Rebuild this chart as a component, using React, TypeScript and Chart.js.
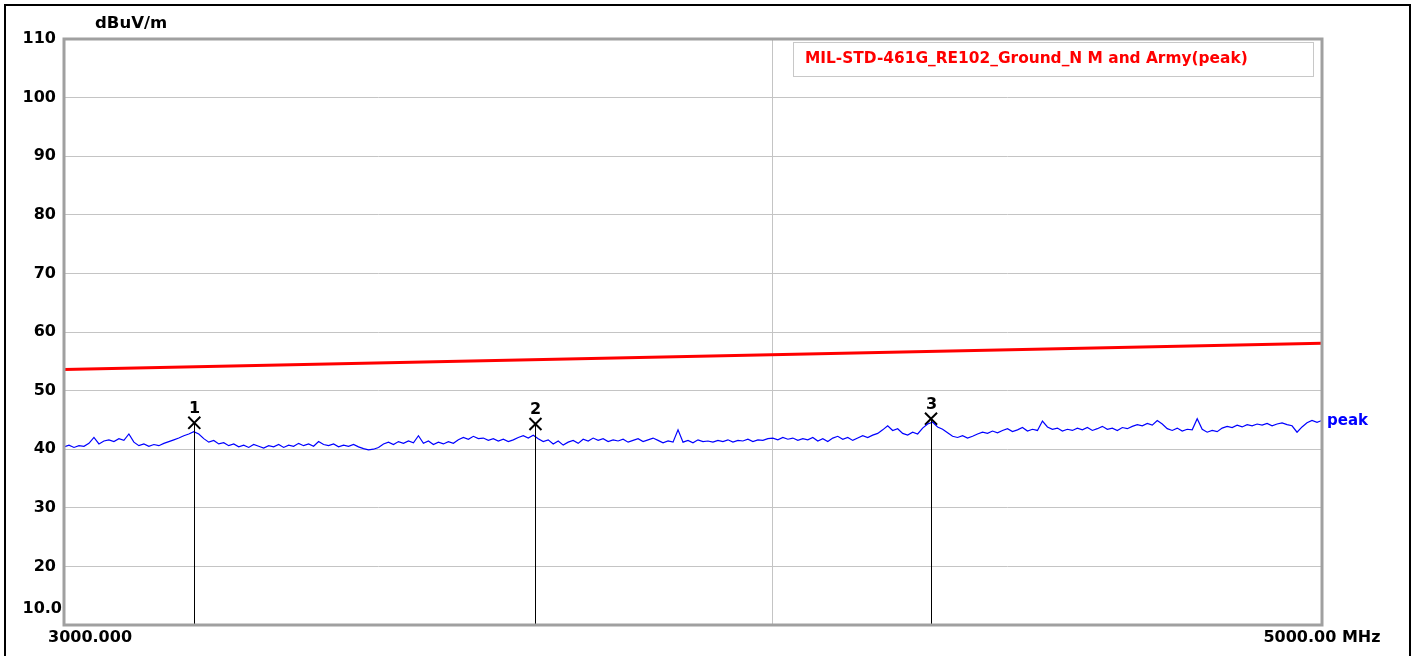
import React, { useEffect, useRef } from "react";
import { Chart, registerables } from "chart.js";

Chart.register(...registerables);

const X_MIN = 3000;
const X_MAX = 5000;
const Y_MIN = 10;
const Y_MAX = 110;

const yTickValues = [10, 20, 30, 40, 50, 60, 70, 80, 90, 100, 110];
const yTickLabels = ["10.0", "20", "30", "40", "50", "60", "70", "80", "90", "100", "110"];
const xGridValues = [3000, 4000, 5000];
const xStartLabel = "3000.000";
const xEndLabel = "5000.00 MHz";
const yUnit = "dBuV/m";
const legendText = "MIL-STD-461G_RE102_Ground_N M and Army(peak)";
const traceName = "peak";

const limitFreqs = [3000, 5000];
const limitValues = [53.6, 58.1];

const markerFreqs = [3163, 3633, 4266];
const markerValues = [44.5, 44.3, 45.2];
const markerLabels = ["1", "2", "3"];

const peakValues = [
  40.4, 40.7, 40.3, 40.6, 40.5, 41.0, 42.0, 40.9, 41.4,
  41.6, 41.3, 41.8, 41.5, 42.6, 41.2,
  40.6, 40.9, 40.5, 40.8, 40.6,
  41.0, 41.3, 41.6, 41.9, 42.3, 42.6, 43.0, 42.6,
  41.8, 41.2, 41.5, 40.9, 41.1,
  40.6, 40.9, 40.4, 40.7, 40.3, 40.8, 40.5, 40.2, 40.6, 40.4, 40.8, 40.3, 40.7, 40.5,
  41.0, 40.6, 40.9, 40.5, 41.3, 40.8, 40.6, 40.9, 40.4, 40.7, 40.5, 40.8, 40.4,
  40.1, 39.9, 40.0, 40.3,
  40.9, 41.2, 40.8, 41.3, 41.0, 41.4, 41.1,
  42.3,
  41.0, 41.4, 40.8, 41.2, 40.9, 41.3, 41.0,
  41.6, 42.0, 41.7, 42.2, 41.8, 41.9,
  41.5, 41.8, 41.4, 41.7, 41.3, 41.6,
  42.0, 42.3, 41.9, 42.4,
  41.8, 41.3, 41.6, 40.9, 41.4, 40.7, 41.2, 41.5, 41.0,
  41.7, 41.4, 41.9, 41.5, 41.8, 41.3, 41.6, 41.4, 41.7, 41.2, 41.5, 41.8, 41.3, 41.6, 41.9, 41.5, 41.1, 41.4, 41.2,
  43.3,
  41.2, 41.5, 41.1, 41.6, 41.3, 41.4, 41.2, 41.5, 41.3, 41.6, 41.2, 41.5, 41.4, 41.7, 41.3, 41.6, 41.5, 41.8,
  41.9, 41.6, 42.0, 41.7, 41.9, 41.5, 41.8, 41.6, 42.0,
  41.4, 41.8, 41.3, 41.9, 42.2, 41.7, 42.0, 41.5, 41.9, 42.3, 42.0, 42.4, 42.7,
  43.3, 44.0, 43.2, 43.5,
  42.7, 42.4, 42.9, 42.6, 43.6,
  44.3,
  44.6, 43.8, 43.4, 42.8,
  42.2, 42.0, 42.3, 41.9, 42.2,
  42.6, 42.9, 42.7, 43.1, 42.8, 43.2, 43.5, 43.0, 43.3, 43.7, 43.1, 43.4, 43.2,
  44.8,
  43.8, 43.4, 43.6, 43.1, 43.4, 43.2, 43.6, 43.3, 43.7, 43.2, 43.5, 43.9, 43.4, 43.6, 43.2, 43.7, 43.5, 43.9,
  44.2, 44.0, 44.4, 44.1, 44.9, 44.3,
  43.5, 43.2, 43.6, 43.1, 43.4, 43.3,
  45.2,
  43.4, 42.9, 43.2, 43.0,
  43.6, 43.9, 43.7, 44.1, 43.8, 44.2, 44.0, 44.3, 44.1, 44.4, 44.0, 44.3, 44.5, 44.2, 44.0,
  42.9, 43.8, 44.5, 44.9, 44.6, 44.9,
];

// sweep points are spaced evenly on the logarithmic frequency axis
const peakFreqs = peakValues.map(
  (_, i) => X_MIN * Math.pow(X_MAX / X_MIN, i / (peakValues.length - 1))
);

const FONT = '"DejaVu Sans", "Liberation Sans", Arial, sans-serif';

const decorPlugin = {
  id: "decor",
  beforeDraw(chart: any) {
    const { ctx } = chart;
    ctx.save();
    ctx.fillStyle = "#ffffff";
    ctx.fillRect(0, 0, chart.width, chart.height);
    ctx.fillStyle = "#000000";
    ctx.fillRect(4, 4, 1407, 2);
    ctx.fillRect(4, 4, 2, 660);
    ctx.fillRect(1409, 4, 2, 660);
    ctx.restore();
  },
  afterDatasetsDraw(chart: any) {
    const { ctx, chartArea } = chart;
    const xs = chart.scales.x;
    const ys = chart.scales.y;
    ctx.save();
    // marker drop lines and numbers
    ctx.strokeStyle = "#000000";
    ctx.lineWidth = 1;
    ctx.fillStyle = "#000000";
    ctx.font = `bold 16px ${FONT}`;
    ctx.textAlign = "center";
    ctx.textBaseline = "middle";
    markerFreqs.forEach((f, i) => {
      const px = Math.round(xs.getPixelForValue(f)) + 0.5;
      const py = ys.getPixelForValue(markerValues[i]);
      ctx.beginPath();
      ctx.moveTo(px, py);
      ctx.lineTo(px, chartArea.bottom);
      ctx.stroke();
      ctx.fillText(markerLabels[i], px, py - 14);
    });
    // plot frame
    ctx.strokeStyle = "#a0a0a0";
    ctx.lineWidth = 3;
    ctx.strokeRect(
      chartArea.left,
      chartArea.top,
      chartArea.right - chartArea.left,
      chartArea.bottom - chartArea.top
    );
    // legend box
    ctx.fillStyle = "#ffffff";
    ctx.fillRect(793, 42, 520, 34);
    ctx.strokeStyle = "#c8c8c8";
    ctx.lineWidth = 1;
    ctx.strokeRect(793.5, 42.5, 520, 34);
    ctx.fillStyle = "#ff0000";
    ctx.font = `bold 15.4px ${FONT}`;
    ctx.textAlign = "left";
    ctx.fillText(legendText, 805, 59);
    // trace name
    ctx.fillStyle = "#0000ff";
    ctx.font = `bold 15px ${FONT}`;
    ctx.fillText(
      traceName,
      chartArea.right + 5,
      ys.getPixelForValue(peakValues[peakValues.length - 1]) + 1
    );
    // y tick labels
    ctx.fillStyle = "#000000";
    ctx.font = `bold 16px ${FONT}`;
    ctx.textAlign = "right";
    yTickValues.forEach((v, i) => {
      const py = ys.getPixelForValue(v);
      if (i === 0) {
        ctx.fillText(yTickLabels[i], 62, py - 16);
      } else {
        ctx.fillText(yTickLabels[i], 56, py);
      }
    });
    // unit
    ctx.textAlign = "left";
    ctx.font = `bold 16.5px ${FONT}`;
    ctx.fillText(yUnit, 95, 24);
    // x labels
    ctx.font = `bold 16px ${FONT}`;
    ctx.textAlign = "left";
    ctx.fillText(xStartLabel, 48, chartArea.bottom + 13);
    ctx.textAlign = "center";
    ctx.fillText(xEndLabel, xs.getPixelForValue(X_MAX), chartArea.bottom + 13);
    ctx.restore();
  },
};

export default function App() {
  const canvasRef = useRef<HTMLCanvasElement | null>(null);

  useEffect(() => {
    const canvas = canvasRef.current;
    if (!canvas) return;
    const chart = new Chart(canvas, {
      type: "line",
      data: {
        datasets: [
          {
            label: legendText,
            data: limitFreqs.map((f, i) => ({ x: f, y: limitValues[i] })),
            borderColor: "#ff0000",
            borderWidth: 3,
            pointRadius: 0,
            tension: 0,
          },
          {
            label: traceName,
            data: peakFreqs.map((f, i) => ({ x: f, y: peakValues[i] })),
            borderColor: "#0000ff",
            borderWidth: 1.2,
            pointRadius: 0,
            tension: 0,
          },
          {
            label: "markers",
            data: markerFreqs.map((f, i) => ({ x: f, y: markerValues[i] })),
            showLine: false,
            pointStyle: "crossRot",
            pointRadius: 8.5,
            pointBorderWidth: 2,
            pointBorderColor: "#000000",
            borderColor: "#000000",
            backgroundColor: "#000000",
          } as any,
        ],
      },
      options: {
        animation: false,
        responsive: false,
        devicePixelRatio: 1,
        layout: { padding: { left: 64, top: 39, right: 94, bottom: 31 } },
        plugins: {
          legend: { display: false },
          tooltip: { enabled: false },
        },
        scales: {
          x: {
            type: "logarithmic",
            min: X_MIN,
            max: X_MAX,
            afterBuildTicks: (s: any) => {
              s.ticks = xGridValues.map((v) => ({ value: v }));
            },
            afterFit: (s: any) => {
              s.height = 0;
            },
            ticks: { display: false },
            grid: { color: "#c4c4c4", lineWidth: 1, drawTicks: false },
            border: { display: false },
          },
          y: {
            type: "linear",
            min: Y_MIN,
            max: Y_MAX,
            afterBuildTicks: (s: any) => {
              s.ticks = yTickValues.map((v) => ({ value: v }));
            },
            afterFit: (s: any) => {
              s.width = 0;
            },
            ticks: { display: false },
            grid: { color: "#c4c4c4", lineWidth: 1, drawTicks: false },
            border: { display: false },
          },
        },
      },
      plugins: [decorPlugin],
    } as any);
    return () => chart.destroy();
  }, []);

  return (
    <div style={{ position: "absolute", left: 0, top: 0, width: 1416, height: 656, background: "#fff" }}>
      <canvas ref={canvasRef} width={1416} height={656} style={{ display: "block" }} />
    </div>
  );
}
